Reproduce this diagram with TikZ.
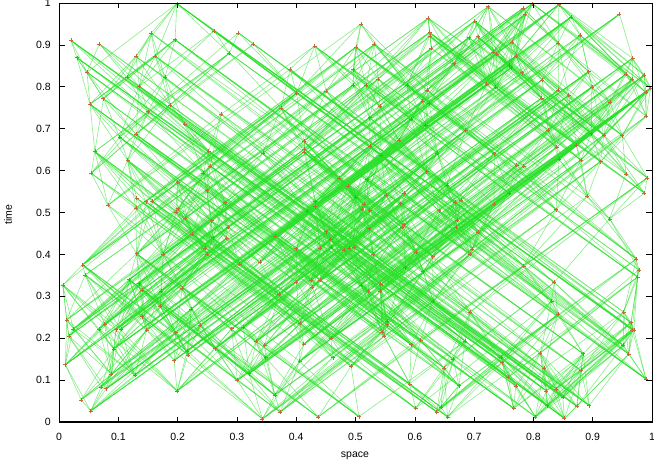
\documentclass[tikz,border=0pt]{standalone}
\usepackage{fontspec}
\setmainfont{Liberation Sans}
\newcount\ci \newcount\cj
\newcount\cdt \newcount\cdx \newcount\cq
\def\NN{290}
\edef\NNp{\the\numexpr\NN+1\relax}
\def\thr{1600000}
\def\eps{150}
\pgfmathsetseed{777}
\ci=1
\loop
  \pgfmathrandominteger{\rr}{0}{10000}%
  \expandafter\xdef\csname PX\the\ci\endcsname{\rr}%
  \pgfmathrandominteger{\rr}{0}{10000}%
  \expandafter\xdef\csname PT\the\ci\endcsname{\rr}%
  \advance\ci by 1
\ifnum\ci<\NNp\repeat
\def\PX#1{\csname PX#1\endcsname}
\def\PT#1{\csname PT#1\endcsname}
\definecolor{lnk}{RGB}{40,225,40}
\definecolor{mkc}{RGB}{195,105,60}
\tikzset{
  link/.style={draw=lnk,line width=0.6pt,opacity=0.55},
  mk/.style={draw=mkc,line width=0.45pt},
  tick/.style={draw=black,line width=0.6pt},
  ticklab/.style={font=\fontsize{10.5}{12}\selectfont,inner sep=0pt},
  axlab/.style={font=\fontsize{10.5}{12}\selectfont,inner sep=0pt}
}
\begin{document}
\begin{tikzpicture}[x=1pt,y=1pt]
\useasboundingbox (0,0) rectangle (654,465);
\fill[white] (0,0) rectangle (654,465);
\begin{scope}[shift={(59,43)},x=0.0593pt,y=0.0419pt]
\ci=1
\loop
  \coordinate (p\the\ci) at (\PX{\the\ci},\PT{\the\ci});
  \advance\ci by 1
\ifnum\ci<\NNp\repeat
\ci=1
\loop
 {\cj=1
  \loop
   \cdt=\numexpr\PT{\the\cj}-\PT{\the\ci}\relax
   \ifnum\cdt>0\relax
    \cdx=\numexpr\PX{\the\cj}-\PX{\the\ci}\relax
    \ifnum\cdx<0\relax \cdx=-\cdx\fi
    \ifnum\cdt>\cdx
     \cq=\numexpr(\cdt-\cdx)*(\cdt+\cdx)\relax
     \ifnum\numexpr\cdt-\cdx\relax<\eps\relax
      \draw[link] (p\the\ci) -- (p\the\cj);
     \else
      \ifnum\cq<\thr\relax
       \draw[link] (p\the\ci) -- (p\the\cj);
      \fi
     \fi
    \fi
   \fi
   \advance\cj by 1
  \ifnum\cj<\NNp\repeat}
 \advance\ci by 1
\ifnum\ci<\NNp\repeat
\foreach \i in {1,...,\NN}{
  \draw[mk] (p\i) ++(-2pt,0) -- ++(4pt,0) (p\i) ++(0,-2pt) -- ++(0,4pt);
}
\end{scope}
% frame
\coordinate (bl) at (59,43);
\coordinate (br) at (652,43);
\coordinate (tl) at (59,462);
\coordinate (tr) at (652,462);
\foreach \k in {0,...,10}{
  \pgfmathsetmacro\xx{59+59.3*\k}
  \pgfmathsetmacro\yy{43+41.9*\k}
  \draw[tick] (\xx,43) -- (\xx,48);
  \draw[tick] (\xx,462) -- (\xx,457);
  \draw[tick] (59,\yy) -- (65,\yy);
  \draw[tick] (652,\yy) -- (646,\yy);
}
\draw[black,line width=0.7pt] (bl) -- (br) -- (tr) -- (tl) -- cycle;
\draw[black,line width=1.4pt] (bl) -- (br);
\foreach \k/\lab in {0/0,1/0.1,2/0.2,3/0.3,4/0.4,5/0.5,6/0.6,7/0.7,8/0.8,9/0.9,10/1}{
  \pgfmathsetmacro\xx{59+59.3*\k}
  \pgfmathsetmacro\yy{43+41.9*\k}
  \node[ticklab] (xl\k) at (\xx,28) {\lab};
  \node[ticklab,anchor=east] (yl\k) at (51,\yy) {\lab};
}
\node[axlab] (xlabel) at (355,9) {space};
\node[axlab,rotate=90] (ylabel) at (8,250) {time};
\end{tikzpicture}
\end{document}
